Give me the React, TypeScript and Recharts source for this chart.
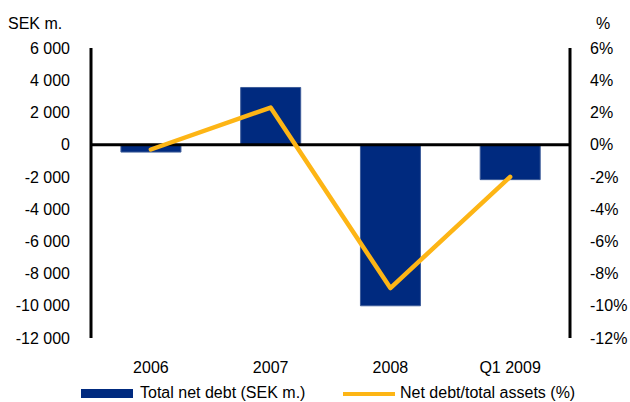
import React from "react";
import { ComposedChart, Bar, Line, XAxis, YAxis, ReferenceLine, Legend } from "recharts";

const categories = ["2006", "2007", "2008", "Q1 2009"];
const netDebt = [-460, 3550, -10000, -2170];
const netDebtRatio = [-0.3, 2.3, -8.9, -2.0];
const leftTicks = [-12000, -10000, -8000, -6000, -4000, -2000, 0, 2000, 4000, 6000];
const rightTicks = [-12, -10, -8, -6, -4, -2, 0, 2, 4, 6];

const data = categories.map((c, i) => ({ cat: c, debt: netDebt[i], ratio: netDebtRatio[i] }));

const FONT = "'Liberation Sans', Arial, sans-serif";
const BAR = "#002A7F";
const LINE = "#FDB515";

const fmtSek = (v: number) => {
  const s = Math.abs(v).toString().replace(/\B(?=(\d{3})+(?!\d))/g, " ");
  return (v < 0 ? "-" : "") + s;
};

const LegendContent = () => (
  <div style={{ position: "relative", width: 630, height: 20, fontFamily: FONT, fontSize: 16, color: "#000" }}>
    <div style={{ position: "absolute", left: 81, top: 5, width: 52, height: 9, background: BAR }} />
    <div style={{ position: "absolute", left: 140, top: 0, lineHeight: "18px", whiteSpace: "nowrap" }}>Total net debt (SEK m.)</div>
    <div style={{ position: "absolute", left: 343, top: 8, width: 52, height: 4, background: LINE }} />
    <div style={{ position: "absolute", left: 400, top: 0, lineHeight: "18px", whiteSpace: "nowrap" }}>Net debt/total assets (%)</div>
  </div>
);

export default function App() {
  return (
    <div style={{ position: "absolute", left: 0, top: 0, width: 630, height: 402, background: "#fff" }}>
      <ComposedChart
        width={630}
        height={402}
        data={data}
        margin={{ top: 48, right: 0, bottom: 30, left: 20 }}
        barCategoryGap="25%"
        style={{ fontFamily: FONT }}
      >
        <XAxis
          dataKey="cat"
          axisLine={false}
          tickLine={false}
          tickSize={0}
          tickMargin={24}
          height={34}
          tick={{ fill: "#000", fontSize: 16, fontFamily: FONT }}
        />
        <YAxis
          yAxisId="left"
          domain={[-12000, 6000]}
          ticks={leftTicks}
          interval={0}
          width={71}
          tickLine={false}
          tickSize={0}
          tickMargin={21}
          axisLine={{ stroke: "#000", strokeWidth: 3 }}
          tickFormatter={fmtSek}
          tick={{ fill: "#000", fontSize: 16, fontFamily: FONT }}
          label={{
            content: () => (
              <text x={8} y={29} fontSize={16} fontFamily={FONT} fill="#000">SEK m.</text>
            ),
          }}
        />
        <YAxis
          yAxisId="right"
          orientation="right"
          domain={[-12, 6]}
          ticks={rightTicks}
          interval={0}
          width={60}
          tickLine={false}
          tickSize={0}
          tickMargin={20}
          axisLine={{ stroke: "#000", strokeWidth: 3 }}
          tickFormatter={(v: number) => `${v}%`}
          tick={{ fill: "#000", fontSize: 16, fontFamily: FONT, textAnchor: "start" }}
          label={{
            content: () => (
              <text x={596} y={29} fontSize={16} fontFamily={FONT} fill="#000">%</text>
            ),
          }}
        />
        <Bar yAxisId="left" dataKey="debt" fill={BAR} stroke="#3D5C99" strokeWidth={1} isAnimationActive={false} />
        <ReferenceLine yAxisId="left" y={0} stroke="#000" strokeWidth={3} />
        <Line
          yAxisId="right"
          dataKey="ratio"
          stroke={LINE}
          strokeWidth={4.5}
          dot={false}
          activeDot={false}
          type="linear"
          strokeLinecap="round"
          strokeLinejoin="round"
          isAnimationActive={false}
        />
        <Legend
          layout="horizontal"
          verticalAlign="middle"
          align="center"
          wrapperStyle={{ top: 384, left: 0, width: 630 }}
          content={() => <LegendContent />}
        />
      </ComposedChart>
    </div>
  );
}
